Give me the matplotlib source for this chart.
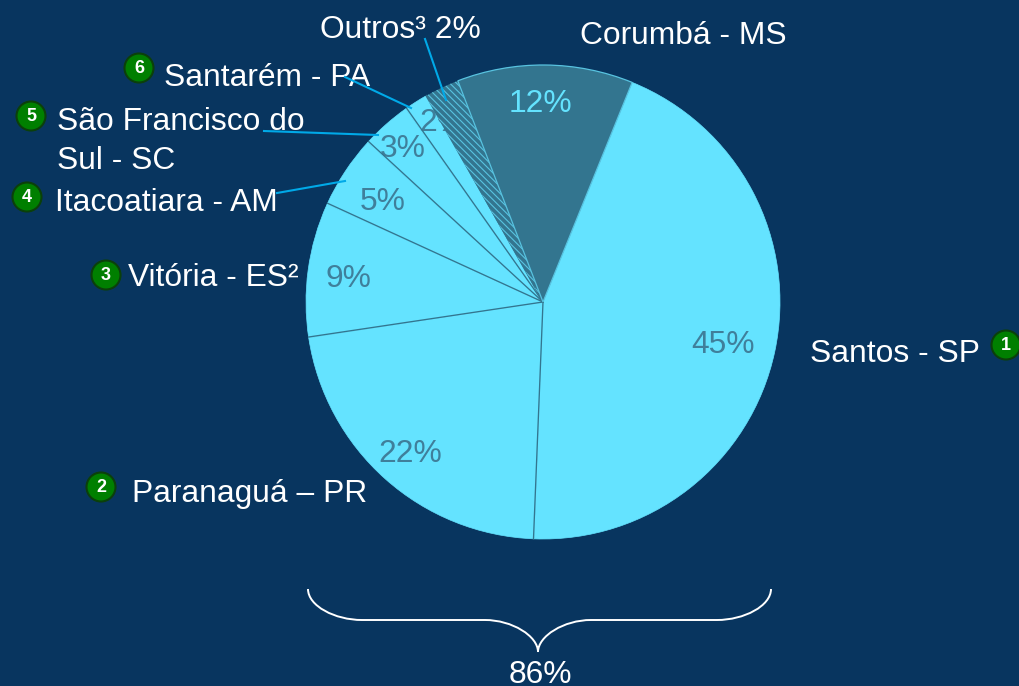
import matplotlib
matplotlib.use('Agg')
import matplotlib.pyplot as plt
import numpy as np
from matplotlib.patches import Circle, PathPatch
from matplotlib.path import Path

W, H = 1020, 686

# clockwise from the top right edge of Corumba
ports = ['Santos', 'Paranagua', 'Vitoria', 'Itacoatiara', 'Sao Francisco', 'Santarem', 'Outros', 'Corumba']
shares = [44.5, 22.0, 9.2, 5.0, 3.4, 1.6, 2.4, 12.0]
pct_labels = ['45%', '22%', '9%', '5%', '3%', '2%', '12%']

bg = '#08355f'
light = '#64e3ff'
dark = '#33758f'
leader = '#00a9e8'
cx, cy, rad, start = 543, 302, 237, 67.9


def Y(y):
    # picture pixels run downwards, the axes run upwards
    return H - y


plt.rcParams['font.family'] = ['Liberation Sans', 'DejaVu Sans']
plt.rcParams['hatch.linewidth'] = 0.8

fig = plt.figure(figsize=(W / 100, H / 100), dpi=100, facecolor=bg)
ax = fig.add_axes([0, 0, 1, 1])

wedges, _ = ax.pie(shares, center=(cx, Y(cy)), radius=rad, startangle=start, counterclock=False,
                   colors=[light] * 6 + [dark] * 2,
                   wedgeprops={'edgecolor': light, 'linewidth': 0.5})
wedges[-1].set_edgecolor('#58c3e0')
wedges[-1].set_linewidth(0.9)
wedges[-1].set_zorder(3)

wedges[-2].set_hatch('\\\\\\\\\\')
wedges[-2].set_edgecolor('#58c3e0')
wedges[-2].set_linewidth(0)
wedges[-2].set_zorder(3)

ax.set_xlim(0, W)
ax.set_ylim(0, H)
ax.set_aspect('auto')
ax.set_axis_off()

# thin dark spokes between the light slices
edges = start - np.cumsum(shares) * 3.6
for a in edges[:6]:
    ax.plot([cx, cx + rad * np.cos(np.radians(a))], [Y(cy), Y(cy) + rad * np.sin(np.radians(a))],
            color=dark, lw=0.95, zorder=2.5)

fs = 22.9

# percentages inside the slices
pct_pos = [(723, 353), (410, 462), (348, 287), (383, 210), (403, 157), (442, 131)]
for s, (x, y) in zip(pct_labels[:6], pct_pos):
    ax.text(x, Y(y), s, color='#3f7f9b', fontsize=fs, ha='center', va='baseline', zorder=2)
ax.text(540, Y(112), pct_labels[6], color=light, fontsize=fs, ha='center', va='baseline', zorder=4)

# port names
names = [('Outros³ 2%', 320, 38), ('Corumbá - MS', 580, 44), ('Santarém - PA', 164, 86),
         ('São Francisco do', 57, 130), ('Sul - SC', 57, 169), ('Itacoatiara - AM', 55, 211),
         ('Vitória - ES²', 128, 286), ('Paranaguá – PR', 132, 502), ('Santos - SP', 810, 362)]
for s, x, y in names:
    ax.text(x, Y(y), s, color='white', fontsize=fs, ha='left', va='baseline', zorder=5)

# leader lines
lines = [((345, 77), (411, 108)), ((264, 131), (378, 135)), ((277, 193), (345, 181)), ((425, 39), (446, 100))]
for (x0, y0), (x1, y1) in lines:
    ax.plot([x0, x1], [Y(y0), Y(y1)], color=leader, lw=1.5, zorder=6)

# numbered green badges
badges = [('1', 1006, 345), ('2', 101, 487), ('3', 106, 275), ('4', 27, 197), ('5', 31, 116), ('6', 139, 68)]
for s, x, y in badges:
    ax.add_patch(Circle((x, Y(y)), 14.5, facecolor='#007f00', edgecolor='#0b400b', lw=1.5, zorder=7))
    ax.text(x, Y(y) - 0.5, s, color='white', fontsize=13, fontweight='bold', ha='center', va='center', zorder=8)

# brace under the pie
verts = [(308, 589), (308, 606), (335, 620), (362, 620), (485, 620), (512, 620), (538, 636), (538, 652),
         (538, 636), (564, 620), (591, 620), (717, 620), (744, 620), (771, 606), (771, 589)]
codes = [Path.MOVETO, Path.CURVE4, Path.CURVE4, Path.CURVE4, Path.LINETO, Path.CURVE4, Path.CURVE4, Path.CURVE4,
         Path.CURVE4, Path.CURVE4, Path.CURVE4, Path.LINETO, Path.CURVE4, Path.CURVE4, Path.CURVE4]
ax.add_patch(PathPatch(Path([(x, Y(y)) for x, y in verts], codes), facecolor='none', edgecolor='white', lw=1.4, zorder=5))
ax.text(540, Y(683), '86%', color='white', fontsize=fs, ha='center', va='baseline', zorder=5)

fig.savefig('out.png', dpi=100, facecolor=bg)
